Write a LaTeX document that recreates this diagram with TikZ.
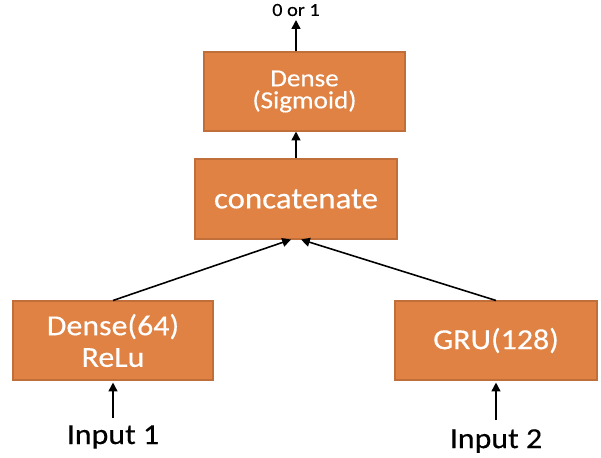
\documentclass[tikz,border=0pt]{standalone}
\usepackage{fontspec}
\setmainfont{Carlito}[FakeStretch=1.1, FakeBold=0.4]
\usetikzlibrary{arrows.meta}
\definecolor{O2}{RGB}{223,130,68}
\definecolor{O2d}{RGB}{192,110,58}

\begin{document}
\begin{tikzpicture}[x=0.02cm, y=-0.02cm,
    layer/.style={draw=O2d, fill=O2, text=white, line width=0.6pt, align=center, inner sep=0pt},
    link/.style={line width=0.9pt, -{Triangle[length=5pt,width=5pt]}}]
      \useasboundingbox (0,0) rectangle (601,457);
      \node[layer, minimum width=201*0.02cm, minimum height=79*0.02cm, font=\fontsize{14}{12.5}\selectfont] (sig) at (304.5, 91.5) {Dense\\(Sigmoid)};
      \node[layer, minimum width=202*0.02cm, minimum height=80*0.02cm, font=\fontsize{17}{19}\selectfont] (cat) at (296, 199) {concatenate};
      \node[layer, minimum width=200*0.02cm, minimum height=79*0.02cm, font=\fontsize{16.5}{18}\selectfont] (dns) at (113, 340.5) {Dense(64)\\ReLu};
      \node[layer, minimum width=202*0.02cm, minimum height=79*0.02cm, font=\fontsize{16.5}{19}\selectfont] (gru) at (496, 340.5) {GRU(128)};
      \node[font=\fontsize{10.5}{12}\selectfont] (out) at (296, 10) {0 or 1};
      \node[font=\fontsize{16.5}{19}\selectfont] (in1) at (113, 437) {Input 1};
      \node[font=\fontsize{16.5}{19}\selectfont] (in2) at (496, 441) {Input 2};
      \coordinate (top) at (296, 20);
      \coordinate (b1) at (113, 418);
      \coordinate (b2) at (496, 420);
      \draw[link] (cat.north) -- (cat.north |- sig.south);
      \draw[link] (cat.north |- sig.north) -- (top);
      \draw[link] (dns.north) -- ([xshift=-5*0.02cm]cat.south);
      \draw[link] (gru.north) -- ([xshift=5*0.02cm]cat.south);
      \draw[link] (b1) -- ([yshift=-2*0.02cm]dns.south);
      \draw[link] (b2) -- ([yshift=-2*0.02cm]gru.south);
    \end{tikzpicture}
\end{document}
